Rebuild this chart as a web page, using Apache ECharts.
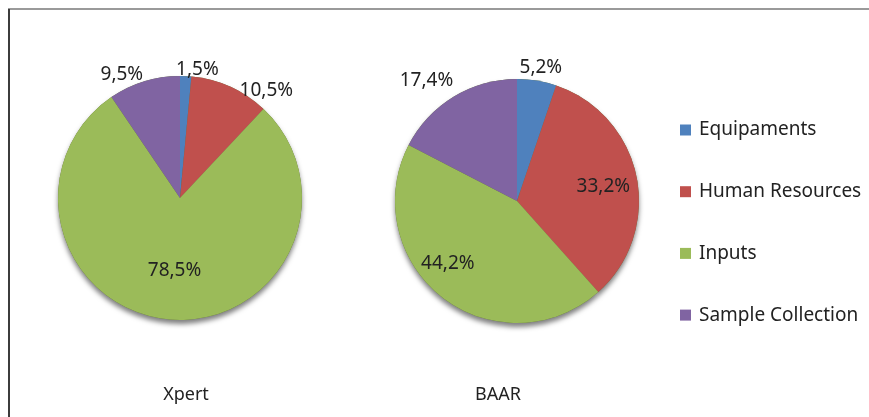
<!DOCTYPE html>
<html>
<head>
<meta charset="utf-8">
<script src="https://cdn.jsdelivr.net/npm/echarts@6/dist/echarts.min.js"></script>
<style>html,body{margin:0;padding:0;background:#fff}#c{width:869px;height:417px}</style>
</head>
<body>
<div id="c"></div>
<script>
const categories = ['Equipaments', 'Human Resources', 'Inputs', 'Sample Collection'];
const colors = ['#4F81BD', '#C0504D', '#9BBB59', '#8064A2'];
const xpertValues = [1.5, 10.5, 78.5, 9.5];
const baarValues = [5.2, 33.2, 44.2, 17.4];
const pieTitles = ['Xpert', 'BAAR'];
// label placement tweaks (labelLine length, distance to line)
const xpertLabelTweaks = [[7, -10], [-4, 11], [-48.7, -27], [6.7, -1]];
const baarLabelTweaks = [[12.8, -19.4], [-52, -9], [-42.3, -6.4], [18.5, -9.2]];

const FONT = '"Noto Sans", sans-serif';
const TXT = '#222222';
const R = 122;

function fmt(v) { return v.toFixed(1).replace('.', ',') + '%'; }

function mainSeries(values, tweaks, center) {
  return {
    type: 'pie',
    center: center,
    radius: R,
    startAngle: 90,
    clockwise: true,
    avoidLabelOverlap: false,
    z: 3,
    label: {
      show: true, position: 'outside', fontFamily: FONT, fontSize: 19, color: TXT,
      formatter: p => fmt(p.value)
    },
    labelLine: { show: false, length2: 0 },
    emphasis: { disabled: true },
    data: categories.map((n, i) => ({
      name: n, value: values[i],
      itemStyle: { color: colors[i] },
      labelLine: { show: false, length: tweaks[i][0], length2: 0 },
      label: { distanceToLabelLine: tweaks[i][1] }
    }))
  };
}
function shadowSeries(values, center) {
  return {
    type: 'pie', center: center, radius: R, startAngle: 90, silent: true, z: 1,
    label: { show: false }, labelLine: { show: false },
    itemStyle: { color: '#5e7135', shadowBlur: 5, shadowOffsetY: 4, shadowColor: 'rgba(0,0,0,0.5)' },
    emphasis: { disabled: true },
    data: categories.map((n, i) => ({ name: n, value: values[i] }))
  };
}

const chart = echarts.init(document.getElementById('c'), null, { renderer: 'canvas' });
chart.setOption({
  animation: false,
  backgroundColor: '#fff',
  title: [
    { text: pieTitles[0], left: 181, top: 381, textAlign: 'center', textStyle: { fontFamily: FONT, fontSize: 18, fontWeight: 'normal', color: TXT } },
    { text: pieTitles[1], left: 493, top: 381, textAlign: 'center', textStyle: { fontFamily: FONT, fontSize: 18, fontWeight: 'normal', color: TXT } }
  ],
  legend: {
    orient: 'vertical', left: 675, top: 115, itemWidth: 11, itemHeight: 11, itemGap: 41.7,
    icon: 'rect', selectedMode: false, data: categories,
    textStyle: { fontFamily: FONT, fontSize: 19, lineHeight: 20, color: TXT, padding: [0, 0, 0, 3] }
  },
  graphic: [
    { type: 'line', shape: { x1: 8, y1: 9, x2: 869, y2: 9 }, style: { stroke: '#9a9a9a', lineWidth: 2 } },
    { type: 'line', shape: { x1: 9, y1: 9, x2: 9, y2: 417 }, style: { stroke: '#3c3c3c', lineWidth: 2 } }
  ],
  series: [
    mainSeries(xpertValues, xpertLabelTweaks, [180, 198]),
    mainSeries(baarValues, baarLabelTweaks, [517, 201]),
    shadowSeries(xpertValues, [180, 198]),
    shadowSeries(baarValues, [517, 201])
  ]
});
</script>
</body>
</html>
